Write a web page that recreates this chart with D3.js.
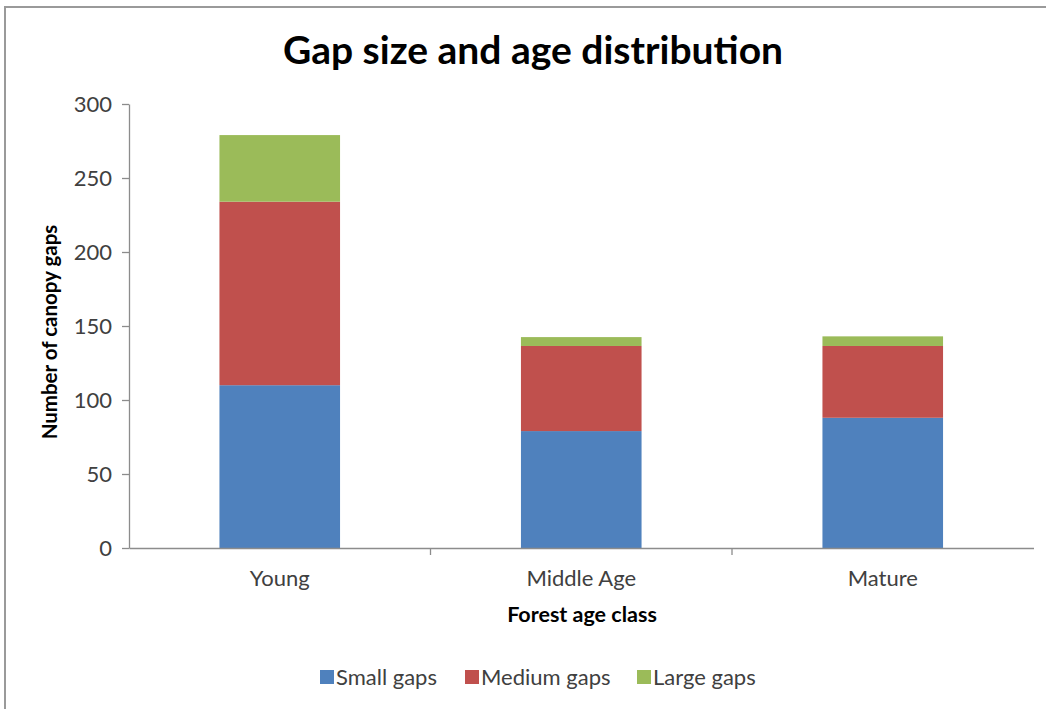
<!DOCTYPE html>
<html>
<head>
<meta charset="utf-8">
<script src="https://cdn.jsdelivr.net/npm/d3@7"></script>
<style>
  html, body { margin: 0; padding: 0; background: #fff; }
  svg { display: block; }
  text { font-family: Lato, "Open Sans", sans-serif; }
</style>
</head>
<body>
<svg id="chart" width="1046" height="709"></svg>
<script>
const categories = ["Young", "Middle Age", "Mature"];
const seriesNames = ["Small gaps", "Medium gaps", "Large gaps"];
const smallGaps = [110, 79, 88];
const mediumGaps = [124, 57.5, 48.5];
const largeGaps = [45, 6, 6.5];
const yTicks = [0, 50, 100, 150, 200, 250, 300];
const colors = ["#4F81BD", "#C0504D", "#9BBB59"];

const svg = d3.select("#chart");

// frame
svg.append("rect").attr("x", 5).attr("y", 7).attr("width", 1200).attr("height", 900)
  .attr("fill", "none").attr("stroke", "#9a9a9a").attr("stroke-width", 2);

const x0 = 129, x1 = 1033.5, yTop = 104, yBot = 548;

const x = d3.scaleBand().domain(categories).range([x0, x1]).paddingInner(0.6).paddingOuter(0.3);
const y = d3.scaleLinear().domain([0, 300]).range([yBot, yTop]);

const table = categories.map((c, i) => ({
  cat: c, "Small gaps": smallGaps[i], "Medium gaps": mediumGaps[i], "Large gaps": largeGaps[i]
}));
const stack = d3.stack().keys(seriesNames)(table);

svg.append("g").selectAll("g").data(stack).join("g")
  .attr("fill", (d, i) => colors[i])
  .selectAll("rect").data(d => d).join("rect")
  .attr("x", d => x(d.data.cat))
  .attr("width", x.bandwidth())
  .attr("y", d => y(d[1]))
  .attr("height", d => y(d[0]) - y(d[1]));

// y axis
const yAxis = svg.append("g").attr("transform", `translate(${x0},0)`)
  .call(d3.axisLeft(y).tickValues(yTicks).tickSize(7).tickSizeOuter(0).tickPadding(10));
yAxis.select(".domain").attr("stroke", "#8c8c8c").attr("stroke-width", 1.3);
yAxis.selectAll(".tick line").attr("stroke", "#8c8c8c").attr("stroke-width", 1.3);
yAxis.selectAll(".tick text").attr("font-size", 22).attr("fill", "#404040")
  .attr("font-family", "Lato, 'Open Sans', sans-serif");

// x axis
const xAxis = svg.append("g").attr("transform", `translate(0,${yBot})`)
  .call(d3.axisBottom(x).tickSize(0).tickPadding(22));
xAxis.select(".domain").attr("stroke", "#8c8c8c").attr("stroke-width", 1.3);
xAxis.selectAll(".tick text").attr("font-size", 22).attr("fill", "#404040")
  .attr("font-family", "Lato, 'Open Sans', sans-serif");
// category separator ticks
const step = x.step();
const sepTicks = categories.slice(1).map(c => x(c) - step * x.paddingInner() / 2);
xAxis.selectAll(".sep").data(sepTicks).join("line").attr("class", "sep")
  .attr("x1", d => d).attr("x2", d => d).attr("y1", 0).attr("y2", 7)
  .attr("stroke", "#8c8c8c").attr("stroke-width", 1.3);

// title
svg.append("text").attr("x", 533).attr("y", 64).attr("text-anchor", "middle")
  .attr("font-size", 39).attr("font-weight", "bold").attr("fill", "#000")
  .text("Gap size and age distribution");

// axis titles
svg.append("text").attr("transform", "translate(57,332) rotate(-90)")
  .attr("text-anchor", "middle").attr("font-size", 20.5).attr("font-weight", "bold").attr("fill", "#000")
  .text("Number of canopy gaps");
svg.append("text").attr("x", 582).attr("y", 622).attr("text-anchor", "middle")
  .attr("font-size", 21.5).attr("font-weight", "bold").attr("fill", "#000")
  .text("Forest age class");

// legend
const legendX = [320, 465, 637];
const lg = svg.append("g");
seriesNames.forEach((s, i) => {
  lg.append("rect").attr("x", legendX[i]).attr("y", 670).attr("width", 14).attr("height", 14).attr("fill", colors[i]);
  lg.append("text").attr("x", legendX[i] + 16).attr("y", 685).attr("font-size", 22).attr("fill", "#404040").text(s);
});
</script>
</body>
</html>
